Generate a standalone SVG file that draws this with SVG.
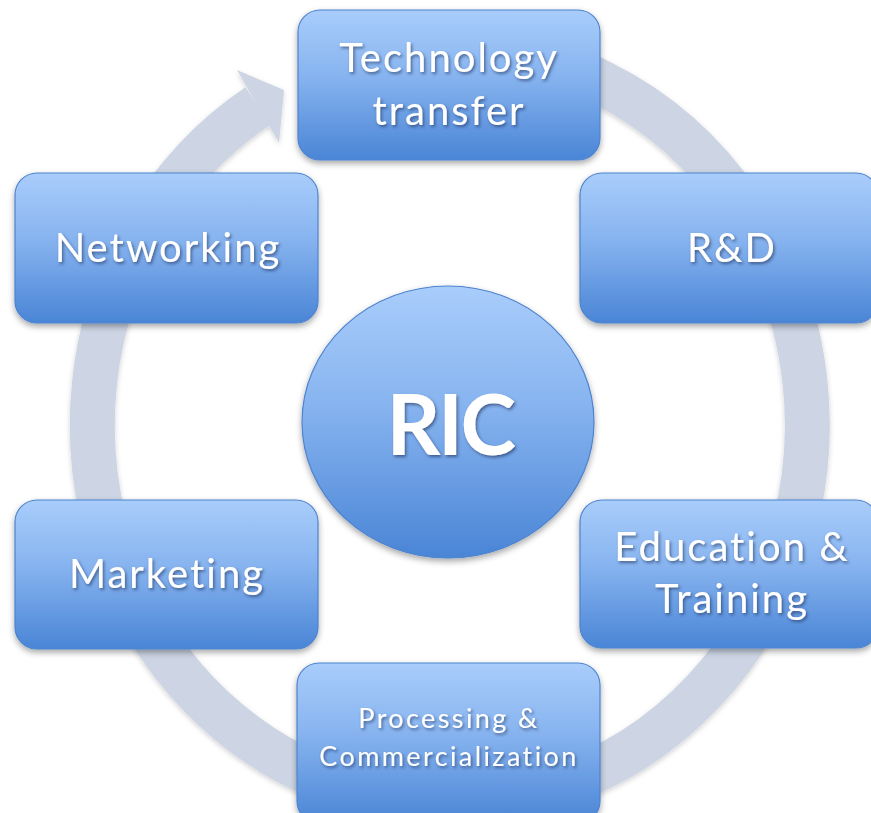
<svg xmlns="http://www.w3.org/2000/svg" width="871" height="813" viewBox="0 0 871 813">
<defs>
<linearGradient id="g" x1="0" y1="0" x2="0" y2="1">
<stop offset="0" stop-color="#a9cdfb"/>
<stop offset="0.45" stop-color="#86b3ef"/>
<stop offset="1" stop-color="#4a85d6"/>
</linearGradient>
<filter id="sh" x="-10%" y="-10%" width="120%" height="125%">
<feDropShadow dx="0" dy="3" stdDeviation="3" flood-color="#000" flood-opacity="0.35"/>
</filter>
<filter id="rs" x="-10%" y="-10%" width="120%" height="120%">
<feDropShadow dx="0" dy="2" stdDeviation="2.5" flood-color="#000" flood-opacity="0.18"/>
</filter>
<filter id="ts" x="-10%" y="-20%" width="120%" height="150%">
<feDropShadow dx="1.5" dy="2" stdDeviation="1.5" flood-color="#1a2f55" flood-opacity="0.6"/>
</filter>
</defs>
<style>
.box{fill:url(#g);stroke:#4d83cf;stroke-width:1.2;filter:url(#sh)}
.t{font-family:Lato,"Open Sans",sans-serif;fill:#fff;text-anchor:middle;filter:url(#ts)}
.big{font-size:40px;letter-spacing:2px}
.sm{font-size:27px;letter-spacing:2.4px}
.ric{font-size:84px;font-weight:bold;letter-spacing:-2.5px}
.ring{fill:none;stroke:#cdd5e4;stroke-width:45}
.head{fill:#cdd5e4}
</style>
<rect width="871" height="813" fill="#fff"/>
<g id="connectors" filter="url(#rs)">
<path class="ring" d="M 447.5 47 A 357.5 378 0 1 1 258 106"/>
<polygon class="head" points="237,70 284,90 279,143"/>
</g>
<g id="node-tech">
<rect class="box" x="298" y="10" width="302" height="150" rx="22"/>
<text class="t big" x="449" y="72">Technology</text>
<text class="t big" x="449" y="125">transfer</text>
</g>
<g id="node-rd">
<rect class="box" x="580" y="173" width="298" height="150" rx="22"/>
<text class="t big" x="732" y="262">R&amp;D</text>
</g>
<g id="node-networking">
<rect class="box" x="15" y="173" width="303" height="150" rx="22"/>
<text class="t big" x="168" y="262">Networking</text>
</g>
<g id="node-ric">
<ellipse class="box" cx="448" cy="422" rx="146" ry="136"/>
<text class="t ric" x="450" y="455">RIC</text>
</g>
<g id="node-marketing">
<rect class="box" x="15" y="500" width="303" height="149" rx="22"/>
<text class="t big" x="167" y="588">Marketing</text>
</g>
<g id="node-education">
<rect class="box" x="580" y="500" width="298" height="148" rx="22"/>
<text class="t big" x="732" y="561">Education &amp;</text>
<text class="t big" x="732" y="613">Training</text>
</g>
<g id="node-processing">
<rect class="box" x="297" y="663" width="303" height="160" rx="22"/>
<text class="t sm" x="449" y="728">Processing &amp;</text>
<text class="t sm" x="449" y="766">Commercialization</text>
</g>
</svg>
